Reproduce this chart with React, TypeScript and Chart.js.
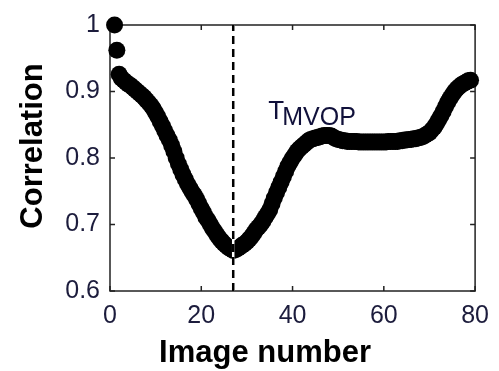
import React, { useEffect, useRef } from 'react';
import { Chart, registerables } from 'chart.js';

Chart.register(...registerables);

// ---- data (samples every half image step) ----
const imageNumbers = [
  1, 1.5, 2, 2.5, 3, 3.5, 4, 4.5, 5, 5.5, 6, 6.5, 7, 7.5, 8, 8.5, 9, 9.5, 10, 10.5,
  11, 11.5, 12, 12.5, 13, 13.5, 14, 14.5, 15, 15.5, 16, 16.5, 17, 17.5, 18, 18.5, 19, 19.5, 20, 20.5,
  21, 21.5, 22, 22.5, 23, 23.5, 24, 24.5, 25, 25.5, 26, 26.5, 27, 27.5, 28, 28.5, 29, 29.5, 30, 30.5,
  31, 31.5, 32, 32.5, 33, 33.5, 34, 34.5, 35, 35.5, 36, 36.5, 37, 37.5, 38, 38.5, 39, 39.5, 40, 40.5,
  41, 41.5, 42, 42.5, 43, 43.5, 44, 44.5, 45, 45.5, 46, 46.5, 47, 47.5, 48, 48.5, 49, 49.5, 50, 50.5,
  51, 51.5, 52, 52.5, 53, 53.5, 54, 54.5, 55, 55.5, 56, 56.5, 57, 57.5, 58, 58.5, 59, 59.5, 60, 60.5,
  61, 61.5, 62, 62.5, 63, 63.5, 64, 64.5, 65, 65.5, 66, 66.5, 67, 67.5, 68, 68.5, 69, 69.5, 70, 70.5,
  71, 71.5, 72, 72.5, 73, 73.5, 74, 74.5, 75, 75.5, 76, 76.5, 77, 77.5, 78, 78.5, 79,
];
const correlation = [
  1.0, 0.962, 0.926, 0.92, 0.917, 0.914, 0.911, 0.909, 0.906, 0.903, 0.9, 0.897, 0.894, 0.891, 0.887, 0.883, 0.879, 0.874, 0.868, 0.862,
  0.855, 0.848, 0.841, 0.834, 0.827, 0.819, 0.81, 0.8, 0.791, 0.783, 0.775, 0.768, 0.761, 0.755, 0.749, 0.744, 0.738, 0.731, 0.724, 0.718,
  0.711, 0.706, 0.7, 0.694, 0.689, 0.684, 0.679, 0.675, 0.671, 0.668, 0.665, 0.663, 0.661, 0.662, 0.664, 0.666, 0.669, 0.671, 0.674, 0.678,
  0.682, 0.687, 0.692, 0.696, 0.7, 0.705, 0.711, 0.716, 0.722, 0.731, 0.74, 0.748, 0.756, 0.764, 0.772, 0.78, 0.788, 0.794, 0.8, 0.805,
  0.81, 0.814, 0.817, 0.82, 0.823, 0.826, 0.828, 0.829, 0.83, 0.831, 0.832, 0.833, 0.834, 0.834, 0.834, 0.833, 0.831, 0.829, 0.828, 0.827,
  0.826, 0.826, 0.825, 0.825, 0.825, 0.825, 0.825, 0.824, 0.824, 0.824, 0.824, 0.824, 0.824, 0.824, 0.824, 0.824, 0.824, 0.824, 0.824, 0.824,
  0.825, 0.825, 0.825, 0.825, 0.825, 0.826, 0.826, 0.827, 0.827, 0.828, 0.828, 0.829, 0.829, 0.83, 0.831, 0.832, 0.834, 0.836, 0.838, 0.842,
  0.846, 0.851, 0.857, 0.863, 0.87, 0.877, 0.884, 0.89, 0.895, 0.9, 0.904, 0.907, 0.91, 0.912, 0.914, 0.916, 0.917,
];
const mvopImage = 27;
const xTicks = [0, 20, 40, 60, 80];
const xTickLabels = ['0', '20', '40', '60', '80'];
const yTicks = [0.6, 0.7, 0.8, 0.9, 1];
const yTickLabels = ['0.6', '0.7', '0.8', '0.9', '1'];
const xTitle = 'Image number';
const yTitle = 'Correlation';
const labelMain = 'T';
const labelSub = 'MVOP';
const labelAt = { x: 34.7, y: 0.859 };

const FONT = "'Liberation Sans', Arial, sans-serif";
const TICK_COLOR = '#1c1c3c';

const framePlugin = {
  id: 'frame',
  beforeDatasetsDraw(chart: any) {
    const { ctx, chartArea: a, scales } = chart;
    ctx.save();
    ctx.strokeStyle = '#222';
    ctx.lineWidth = 1.5;
    ctx.strokeRect(a.left, a.top, a.right - a.left, a.bottom - a.top);
    const tl = 5;
    ctx.beginPath();
    xTicks.forEach((v) => {
      const px = scales.x.getPixelForValue(v);
      ctx.moveTo(px, a.bottom);
      ctx.lineTo(px, a.bottom - tl);
      ctx.moveTo(px, a.top);
      ctx.lineTo(px, a.top + tl);
    });
    yTicks.forEach((v) => {
      const py = scales.y.getPixelForValue(v);
      ctx.moveTo(a.left, py);
      ctx.lineTo(a.left + tl, py);
      ctx.moveTo(a.right, py);
      ctx.lineTo(a.right - tl, py);
    });
    ctx.stroke();
    ctx.restore();
  },
  afterDraw(chart: any) {
    const { ctx, scales } = chart;
    ctx.save();
    ctx.fillStyle = '#000';
    ctx.font = `bold 31px ${FONT}`;
    ctx.textAlign = 'center';
    ctx.textBaseline = 'alphabetic';
    ctx.fillText(xTitle, 265, 362);
    ctx.translate(42, 146);
    ctx.rotate(-Math.PI / 2);
    ctx.fillText(yTitle, 0, 0);
    ctx.restore();

    ctx.save();
    const lx = scales.x.getPixelForValue(labelAt.x);
    const ly = scales.y.getPixelForValue(labelAt.y);
    ctx.fillStyle = '#10103a';
    ctx.textAlign = 'left';
    ctx.textBaseline = 'alphabetic';
    ctx.font = `26px ${FONT}`;
    ctx.fillText(labelMain, lx, ly);
    const w = ctx.measureText(labelMain).width;
    ctx.font = `25px ${FONT}`;
    ctx.fillText(labelSub, lx + w - 2, ly + 6);
    ctx.restore();
  },
};

export default function App() {
  const ref = useRef<HTMLCanvasElement | null>(null);
  useEffect(() => {
    if (!ref.current) return;
    const points = imageNumbers.map((x, i) => ({ x, y: correlation[i] }));
    const vline = [
      { x: mvopImage, y: yTicks[0] },
      { x: mvopImage, y: yTicks[yTicks.length - 1] },
    ];
    const chart = new Chart(ref.current, {
      type: 'scatter',
      data: {
        datasets: [
          {
            data: vline,
            showLine: true,
            borderColor: '#000',
            borderWidth: 2.5,
            borderDash: [8, 5],
            pointRadius: 0,
            order: 0,
          } as any,
          {
            data: vline,
            showLine: true,
            borderColor: '#fff',
            borderWidth: 2.5,
            pointRadius: 0,
            order: 1,
          } as any,
          {
            data: points,
            backgroundColor: '#000',
            borderColor: '#000',
            borderWidth: 0,
            pointRadius: 8.5,
            clip: false,
            order: 2,
          } as any,
        ],
      },
      options: {
        animation: false,
        responsive: false,
        events: [],
        layout: { padding: { top: 16, right: 16, left: 0, bottom: 0 } },
        plugins: { legend: { display: false }, tooltip: { enabled: false } },
        scales: {
          x: {
            type: 'linear',
            min: 0,
            max: 80,
            grid: { display: false, drawTicks: false, tickLength: 0 },
            border: { display: false },
            afterBuildTicks: (s: any) => {
              s.ticks = xTicks.map((v) => ({ value: v }));
            },
            afterFit: (s: any) => {
              s.height = 80;
            },
            ticks: {
              padding: 10,
              color: TICK_COLOR,
              font: { family: FONT, size: 25 },
              maxRotation: 0,
              callback: (_v: any, i: number) => xTickLabels[i],
            },
          },
          y: {
            type: 'linear',
            min: 0.6,
            max: 1,
            grid: { display: false, drawTicks: false, tickLength: 0 },
            border: { display: false },
            afterBuildTicks: (s: any) => {
              s.ticks = yTicks.map((v) => ({ value: v }));
            },
            afterFit: (s: any) => {
              s.width = 110;
            },
            ticks: {
              padding: 10,
              color: TICK_COLOR,
              font: { family: FONT, size: 25 },
              callback: (_v: any, i: number) => yTickLabels[i],
            },
          },
        },
      },
      plugins: [framePlugin],
    });
    return () => chart.destroy();
  }, []);
  return (
    <div style={{ position: 'absolute', left: 0, top: 0, width: 499, height: 371, background: '#fff' }}>
      <canvas ref={ref} width={499} height={371} style={{ width: 499, height: 371 }} />
    </div>
  );
}
